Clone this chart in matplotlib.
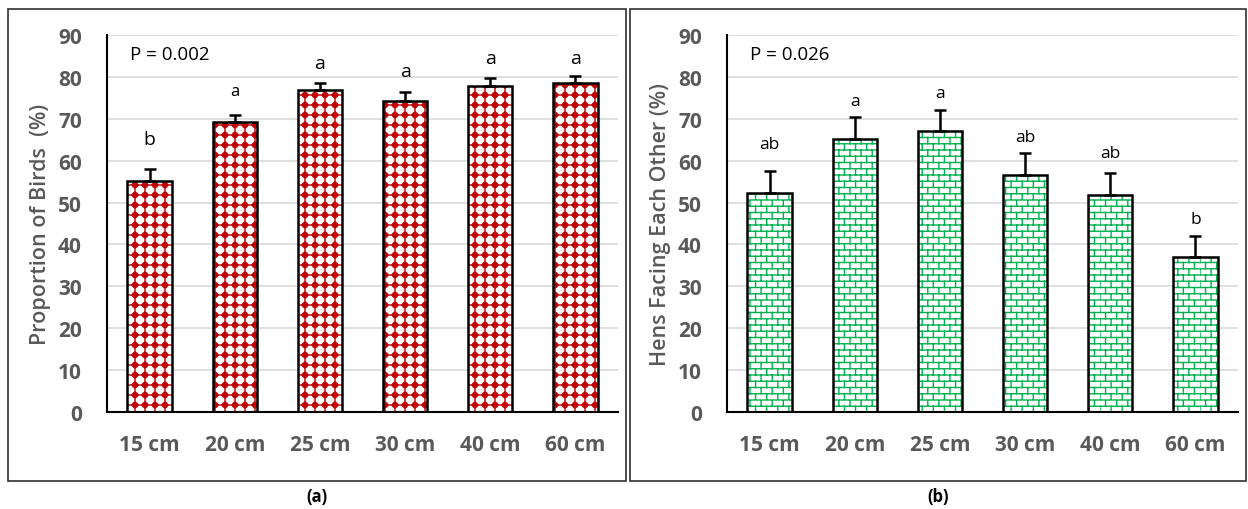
import warnings
import numpy as np
import matplotlib
matplotlib.use('Agg')
from matplotlib import pyplot as plt
from matplotlib import hatch as mhatch
from matplotlib.patches import Rectangle

# ---- data ----
categories = ['15 cm', '20 cm', '25 cm', '30 cm', '40 cm', '60 cm']

birds_mean = [55.1, 69.2, 76.9, 74.2, 77.8, 78.5]
birds_err = [2.9, 1.7, 1.7, 2.2, 1.9, 1.7]
birds_letters = ['b', 'a', 'a', 'a', 'a', 'a']

facing_mean = [52.3, 65.2, 67.1, 56.6, 51.8, 37.0]
facing_err = [5.2, 5.2, 5.0, 5.2, 5.3, 5.0]
facing_letters = ['ab', 'a', 'a', 'ab', 'ab', 'b']

GRAY = '#595959'
RED = '#c00000'
GREEN = '#00b050'

plt.rcParams['font.family'] = ['Open Sans', 'DejaVu Sans']
plt.rcParams['hatch.linewidth'] = 1.0
warnings.filterwarnings('ignore')


# custom hatches: 'k' = bricks, 'd' = dots on a thin grid
class BrickHatch(mhatch.HatchPatternBase):
    def __init__(self, hatch, density):
        self.rows = 16 if 'k' in hatch else 0
        self.cols = 9
        self.num_vertices = (2 * (self.rows + 1) + 2 * self.rows * self.cols
                             if self.rows else 0)

    def set_vertices_and_codes(self, vertices, codes):
        if not self.rows:
            return
        pts = []
        for k in range(self.rows + 1):
            y = k / self.rows
            pts += [(0, y), (1, y)]
        for k in range(self.rows):
            y0, y1 = k / self.rows, (k + 1) / self.rows
            for j in range(self.cols):
                x = (j + 0.5 * (k % 2)) / self.cols
                pts += [(x, y0), (x, y1)]
        vertices[:] = np.array(pts)
        codes[0::2] = mhatch.Path.MOVETO
        codes[1::2] = mhatch.Path.LINETO


class DotGridHatch(mhatch.HatchPatternBase):
    n = 10
    r = 0.026
    nseg = 10

    def __init__(self, hatch, density):
        self.on = 'd' in hatch
        per_dot = self.nseg + 1
        self.num_vertices = (4 * self.n + self.n * self.n * per_dot) if self.on else 0

    def set_vertices_and_codes(self, vertices, codes):
        if not self.on:
            return
        n = self.n
        pos = (np.arange(n) + 0.5) / n
        verts, cds = [], []
        for p in pos:
            verts += [(0, p), (1, p), (p, 0), (p, 1)]
            cds += [mhatch.Path.MOVETO, mhatch.Path.LINETO] * 2
        ang = np.linspace(0, 2 * np.pi, self.nseg, endpoint=False)
        for px in pos:
            for py in pos:
                ring = [(px + self.r * np.cos(a), py + self.r * np.sin(a)) for a in ang]
                verts += ring + [ring[0]]
                cds += ([mhatch.Path.MOVETO] + [mhatch.Path.LINETO] * (self.nseg - 1)
                        + [mhatch.Path.CLOSEPOLY])
        vertices[:] = np.array(verts)
        codes[:] = cds


mhatch._hatch_types.append(BrickHatch)
mhatch._hatch_types.append(DotGridHatch)


def draw_panel(ax, values, errs, letters, hatch, color, ylabel, ptext,
               letter_sizes, letter_gaps):
    x = np.arange(len(categories))
    ax.set_axisbelow(True)
    ax.yaxis.grid(True, color='#d9d9d9', linewidth=1.2)
    ax.bar(x, values, width=0.52, color='white', edgecolor=color, hatch=hatch,
           linewidth=0, zorder=2)
    ax.bar(x, values, width=0.52, color='none', edgecolor='black',
           linewidth=1.8, zorder=3)
    ax.errorbar(x, values, yerr=[np.zeros(len(errs)), errs], fmt='none',
                ecolor='black', elinewidth=1.8, capsize=4, capthick=1.8, zorder=4)
    for xi, v, e, t, fs, g in zip(x, values, errs, letters, letter_sizes, letter_gaps):
        ax.text(xi, v + e + g, t, ha='center', va='center', fontsize=fs,
                color='black')
    ax.text(0.045, 0.95, ptext, transform=ax.transAxes, ha='left', va='center',
            fontsize=13.5)
    ax.set_xlim(-0.5, 5.5)
    ax.set_ylim(0, 90)
    ax.set_yticks(range(0, 91, 10))
    ax.set_xticks(x)
    ax.set_xticklabels(categories)
    ax.tick_params(length=0, labelsize=15, labelcolor=GRAY)
    for lab in ax.get_xticklabels() + ax.get_yticklabels():
        lab.set_fontweight('bold')
    ax.tick_params(axis='y', pad=18)
    ax.tick_params(axis='x', pad=16)
    for s in ['top', 'right']:
        ax.spines[s].set_visible(False)
    ax.spines['left'].set_linewidth(1.5)
    ax.spines['bottom'].set_linewidth(1.5)
    ax.set_ylabel(ylabel, fontsize=15.5, color=GRAY, fontweight='semibold',
                  labelpad=5)


fig = plt.figure(figsize=(12.48, 5.1), dpi=100)

# panel frames
for x0, x1 in [(8, 626), (630, 1246)]:
    fig.add_artist(Rectangle((x0 / 1248, 1 - 482 / 510), (x1 - x0) / 1248,
                             (482 - 10) / 510, transform=fig.transFigure,
                             fill=False, edgecolor='#303030', linewidth=1.2))

ax1 = fig.add_axes([107 / 1248, 1 - 413 / 510, 511 / 1248, 377 / 510])
ax2 = fig.add_axes([727 / 1248, 1 - 413 / 510, 511 / 1248, 377 / 510])

draw_panel(ax1, birds_mean, birds_err, birds_letters, 'd', RED,
           'Proportion of Birds  (%)', 'P = 0.002', [14, 12, 14, 14, 14, 14],
           [7.2, 5.7, 4.8, 5.0, 4.8, 4.3])
draw_panel(ax2, facing_mean, facing_err, facing_letters, 'k', GREEN,
           'Hens Facing Each Other (%)', 'P = 0.026', [12.5] * 6,
           [6.4, 3.8, 4.1, 3.8, 4.8, 4.1])

fig.text(317 / 1248, 1 - 497 / 510, '(a)', ha='center', va='center',
         fontsize=12, fontweight='bold')
fig.text(938 / 1248, 1 - 497 / 510, '(b)', ha='center', va='center',
         fontsize=12, fontweight='bold')

fig.savefig('out.png', dpi=100)
